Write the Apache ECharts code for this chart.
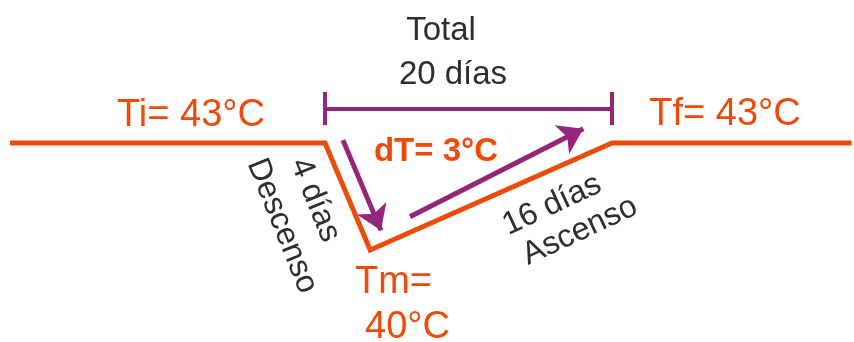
<!DOCTYPE html>
<html>
<head>
<meta charset="utf-8">
<script src="https://cdn.jsdelivr.net/npm/echarts@6/dist/echarts.min.js"></script>
<style>
  html, body { margin: 0; padding: 0; background: #fff; }
  #chart { width: 854px; height: 342px; }
</style>
</head>
<body>
<div id="chart"></div>
<script>
  // perfil de temperatura (días, °C) - esquemático
  const profileDays = [-21.95, 0, 3.15, 20, 36.7];
  const profileTemps = [43, 43, 40, 43, 43];

  // flechas moradas: [inicio, fin] en (día, °C)
  const arrowDown = [[1.25, 43.08], [3.9, 40.55]];
  const arrowUp = [[5.92, 40.93], [18.0, 43.4]];

  // corchete "Total 20 días"
  const spanDays = [0, 20];
  const spanLevel = 43.95;
  const tickLow = 43.5;
  const tickHigh = 44.43;

  const orange = '#ee4a0a';
  const purple = '#93267a';
  const ink = '#2e2e2e';
  const font = '"Liberation Sans", Arial, sans-serif';

  const chart = echarts.init(document.getElementById('chart'));

  function txt(text, x, y, size, color, opts) {
    opts = opts || {};
    return {
      type: 'text',
      x: x,
      y: y,
      rotation: (opts.rot || 0) * Math.PI / 180,
      style: {
        text: text,
        fill: color,
        font: (opts.bold ? 'bold ' : '') + size + 'px ' + font,
        textAlign: opts.align || 'center',
        textVerticalAlign: 'middle'
      }
    };
  }

  const option = {
    animation: false,
    backgroundColor: '#fff',
    grid: { left: 0, right: 0, top: 0, bottom: 0 },
    xAxis: { type: 'value', min: -22.648, max: 36.864, show: false },
    yAxis: { type: 'value', min: 37.42, max: 47.01, show: false },
    series: [
      {
        type: 'line',
        data: profileDays.map((d, i) => [d, profileTemps[i]]),
        symbol: 'none',
        lineStyle: { color: orange, width: 5, join: 'miter' },
        z: 2
      },
      {
        type: 'lines',
        coordinateSystem: 'cartesian2d',
        symbol: ['none', 'arrow'],
        symbolSize: [20, 24],
        lineStyle: { color: purple, width: 5, opacity: 1 },
        data: [{ coords: arrowDown }, { coords: arrowUp }],
        z: 3
      },
      {
        type: 'lines',
        coordinateSystem: 'cartesian2d',
        lineStyle: { color: purple, width: 4, opacity: 1, cap: 'butt' },
        data: [
          { coords: [[spanDays[0], spanLevel], [spanDays[1], spanLevel]] },
          { coords: [[spanDays[0], tickLow], [spanDays[0], tickHigh]] },
          { coords: [[spanDays[1], tickLow], [spanDays[1], tickHigh]] }
        ],
        z: 3
      }
    ],
    graphic: [
      txt('Total', 441, 31, 33, ink),
      txt('20 días', 453, 75, 33, ink),
      txt('Ti= 43°C', 191, 116, 38, orange),
      txt('Tf= 43°C', 725, 115, 38, orange),
      txt('dT= 3°C', 436, 152, 33, orange, { bold: true }),
      txt('Tm=', 355, 283, 38, orange, { align: 'left' }),
      txt('40°C', 365, 328, 38, orange, { align: 'left' }),
      txt('4 días', 315, 200, 32, ink, { rot: -68 }),
      txt('Descenso', 282, 226, 32, ink, { rot: -68 }),
      txt('16 días', 552, 205, 32, ink, { rot: 25 }),
      txt('Ascenso', 580, 231, 32, ink, { rot: 25 })
    ]
  };

  chart.setOption(option);
</script>
</body>
</html>
